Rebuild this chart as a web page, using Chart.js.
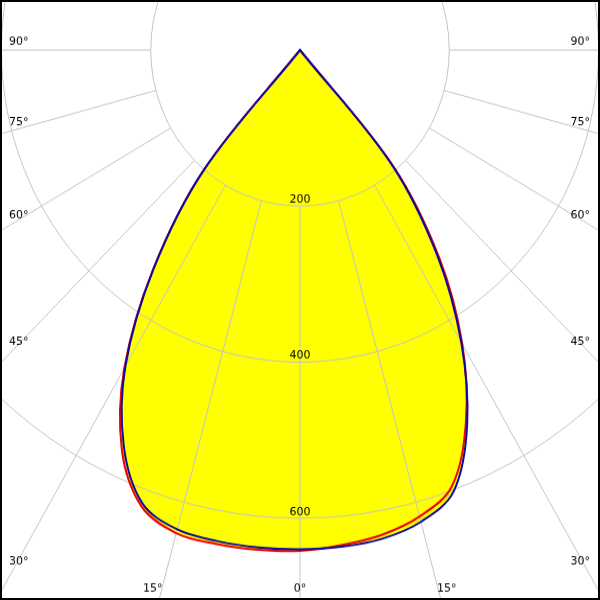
<!DOCTYPE html>
<html>
<head>
<meta charset="utf-8">
<script src="https://cdn.jsdelivr.net/npm/chart.js@4.4.1/dist/chart.umd.min.js"></script>
<style>
  html, body { margin: 0; padding: 0; background: #fff; overflow: hidden; }
  #frame { position: relative; width: 600px; height: 600px; overflow: hidden; background: #fff; }
  #plot { position: absolute; }
  #border { position: absolute; left: 0; top: 0; width: 600px; height: 600px; box-sizing: border-box; border: 2px solid #000; pointer-events: none; }
</style>
</head>
<body>
<div id="frame">
  <div id="plot"><canvas id="chart" width="1194" height="1194"></canvas></div>
  <div id="border"></div>
</div>
<script>
// gamma (deg from nadir) for each half plane
const gammaAngles = [0, 5, 10, 15, 20, 25, 30, 35, 40, 45, 50, 55, 60, 65, 70, 75, 80, 85, 90,
    95, 100, 105, 110, 115, 120, 125, 130, 135, 140, 145, 150, 155, 160, 165, 170, 175, 180];

// luminous intensity, blue plane (left half / right half of the diagram)
const blueLeft = [640, 640, 639, 636, 618, 559, 468, 342, 200, 0, 0, 0, 0, 0, 0, 0, 0, 0, 0,
    0, 0, 0, 0, 0, 0, 0, 0, 0, 0, 0, 0, 0, 0, 0, 0, 0, 0];
const blueRight = [640, 639, 636, 626, 602, 530, 432, 320, 190, 0, 0, 0, 0, 0, 0, 0, 0, 0, 0,
    0, 0, 0, 0, 0, 0, 0, 0, 0, 0, 0, 0, 0, 0, 0, 0, 0, 0];

// red plane
const redLeft = [642, 643, 643, 641, 622, 565, 471, 343, 200, 0, 0, 0, 0, 0, 0, 0, 0, 0, 0,
    0, 0, 0, 0, 0, 0, 0, 0, 0, 0, 0, 0, 0, 0, 0, 0, 0, 0];
const redRight = [639, 637, 631, 619, 595, 526, 435, 326, 195, 0, 0, 0, 0, 0, 0, 0, 0, 0, 0,
    0, 0, 0, 0, 0, 0, 0, 0, 0, 0, 0, 0, 0, 0, 0, 0, 0, 0];

const ringValues = [200, 400, 600];
const angleTicks = [0, 15, 30, 45, 60, 75, 90];

// where the pole sits in the 600x600 view, and the vertical stretch of the picture
const CENTER_X = 300;
const CENTER_Y = 50;
const STRETCH_Y = 1.0456;
const CANVAS_SIZE = 1194;

const plot = document.getElementById('plot');
plot.style.left = (CENTER_X - CANVAS_SIZE / 2) + 'px';
plot.style.top = (CENTER_Y - CANVAS_SIZE / 2) + 'px';
plot.style.width = CANVAS_SIZE + 'px';
plot.style.height = CANVAS_SIZE + 'px';
plot.style.transformOrigin = (CANVAS_SIZE / 2) + 'px ' + (CANVAS_SIZE / 2) + 'px';
plot.style.transform = 'scaleY(' + STRETCH_Y + ')';

// full ring, clockwise from nadir: left half going up, then right half coming down
const ringLabels = [];
const ringBlue = [];
const ringRed = [];
for (let i = 0; i < gammaAngles.length; i++) {
    ringLabels.push(gammaAngles[i]);
    ringBlue.push(blueLeft[i]);
    ringRed.push(redLeft[i]);
}
for (let i = gammaAngles.length - 2; i >= 1; i--) {
    ringLabels.push(gammaAngles[i]);
    ringBlue.push(blueRight[i]);
    ringRed.push(redRight[i]);
}

// label placement in page pixels
const degreeLabels = [
    { text: '90°', x: 9, y: 42, align: 'left' },
    { text: '75°', x: 9, y: 122, align: 'left' },
    { text: '60°', x: 9, y: 215, align: 'left' },
    { text: '45°', x: 9, y: 342, align: 'left' },
    { text: '30°', x: 9, y: 561, align: 'left' },
    { text: '15°', x: 143, y: 589, align: 'left' },
    { text: '0°', x: 300, y: 589, align: 'center' },
    { text: '15°', x: 437, y: 589, align: 'left' },
    { text: '30°', x: 590, y: 561, align: 'right' },
    { text: '45°', x: 590, y: 342, align: 'right' },
    { text: '60°', x: 590, y: 215, align: 'right' },
    { text: '75°', x: 590, y: 122, align: 'right' },
    { text: '90°', x: 590, y: 42, align: 'right' }
];

const labelPlugin = {
    id: 'polarLabels',
    afterDatasetsDraw(chart) {
        const scale = chart.scales.r;
        const ctx = chart.ctx;
        ctx.save();
        ctx.font = '11px "DejaVu Sans", Verdana, sans-serif';
        ctx.fillStyle = '#000';
        ctx.textBaseline = 'middle';

        ctx.textAlign = 'center';
        ringValues.forEach(v => {
            const p = scale.getPointPositionForValue(0, v);
            ctx.fillText(String(v), p.x, p.y - 6);
        });

        degreeLabels.forEach(l => {
            const x = l.x - CENTER_X + scale.xCenter;
            const y = (l.y - CENTER_Y) / STRETCH_Y + scale.yCenter;
            ctx.textAlign = l.align;
            ctx.fillText(l.text, x, y);
        });
        ctx.restore();
    }
};

const chart = new Chart(document.getElementById('chart').getContext('2d'), {
    type: 'radar',
    data: {
        labels: ringLabels,
        datasets: [
            {
                label: 'C0',
                data: ringBlue,
                borderColor: '#0a0aa5',
                backgroundColor: '#ffff00',
                borderWidth: 2,
                fill: 'origin',
                pointRadius: 0,
                tension: 0.35
            },
            {
                label: 'C90',
                data: ringRed,
                borderColor: '#f00000',
                backgroundColor: '#ffff00',
                borderWidth: 2,
                fill: 'origin',
                pointRadius: 0,
                tension: 0.35
            }
        ]
    },
    options: {
        responsive: false,
        animation: false,
        layout: { padding: 0 },
        plugins: {
            legend: { display: false },
            tooltip: { enabled: false },
            filler: { drawTime: 'beforeDraw' }
        },
        scales: {
            r: {
                min: 0,
                max: 800,
                startAngle: 180,
                ticks: { display: false, stepSize: 200 },
                pointLabels: { display: false },
                grid: {
                    circular: true,
                    lineWidth: 1,
                    color: (c) => (c.tick && c.tick.value <= 600) ? '#c4c4c4' : 'rgba(0,0,0,0)'
                },
                angleLines: {
                    lineWidth: 1,
                    color: (c) => {
                        const g = ringLabels[c.index];
                        return (angleTicks.includes(g) && g <= 90) ? '#c4c4c4' : 'rgba(0,0,0,0)';
                    },
                    borderDash: (c) => {
                        const gap = c.scale.getDistanceFromCenterForValue(ringValues[0]);
                        return [0, gap, 3000];
                    }
                }
            }
        }
    },
    plugins: [labelPlugin]
});
</script>
</body>
</html>
